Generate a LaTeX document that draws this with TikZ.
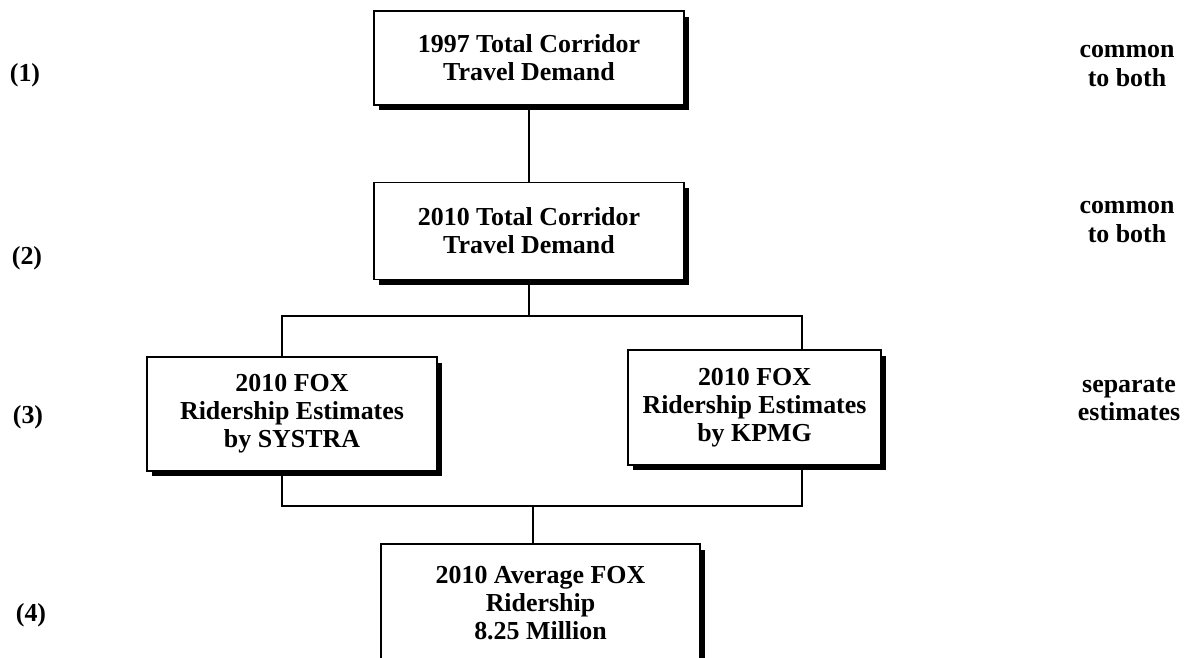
\documentclass[tikz,border=0pt]{standalone}
\usepackage{fontspec}
\setmainfont{Liberation Serif}
\usepackage{tikz}
\usetikzlibrary{shadows}

\begin{document}
\begin{tikzpicture}[x=0.02cm, y=-0.02cm,
  estbox/.style={draw=black, fill=white, line width=1.1pt, align=center, inner sep=0pt,
    font=\fontsize{14.75}{16}\selectfont\bfseries,
    drop shadow={shadow xshift=0.1cm, shadow yshift=-0.11cm, fill=black, opacity=1}},
  rowlabel/.style={align=center, font=\fontsize{14.75}{16}\selectfont\bfseries},
  link/.style={line width=1.05pt}]
\useasboundingbox (0,0) rectangle (1194,658);
\node[estbox, minimum width=6.2cm, minimum height=1.88cm] (b1997) at (529,58)
  {1997 Total Corridor\\Travel Demand};
\node[estbox, minimum width=6.2cm, minimum height=1.94cm] (b2010) at (529,231)
  {2010 Total Corridor\\Travel Demand};
\node[estbox, minimum width=5.8cm, minimum height=2.28cm] (bsys) at (292,414)
  {2010 FOX\\Ridership Estimates\\by SYSTRA};
\node[estbox, minimum width=5.06cm, minimum height=2.3cm] (bkpmg) at (754.5,407.5)
  {2010 FOX\\Ridership Estimates\\by KPMG};
\node[estbox, minimum width=6.38cm, minimum height=2.36cm] (bavg) at (540.5,603)
  {2010 Average FOX\\Ridership\\8.25 Million};
\node[rowlabel] (row1) at (25,75) {(1)};
\node[rowlabel] (row2) at (27,258) {(2)};
\node[rowlabel] (row3) at (28,417) {(3)};
\node[rowlabel] (row4) at (31,615) {(4)};
\node[rowlabel] (note1) at (1127,66) {common\\to both};
\node[rowlabel] (note2) at (1127,222) {common\\to both};
\node[rowlabel] (note3) at (1129,399) {separate\\estimates};
\coordinate (split) at (529,316);
\coordinate (splitL) at (282,316);
\coordinate (splitR) at (802,316);
\coordinate (join) at (533,506);
\coordinate (joinL) at (282,506);
\coordinate (joinR) at (802,506);
\draw[link] (b1997) -- (b2010);
\draw[link] (b2010) -- (split);
\draw[link] (bsys.north -| splitL) -- (splitL) -- (splitR) -- (bkpmg.north -| splitR);
\draw[link] (bsys.south -| joinL) -- (joinL) -- (joinR) -- (bkpmg.south -| joinR);
\draw[link] (join) -- (bavg.north -| join);
\end{tikzpicture}
\end{document}
